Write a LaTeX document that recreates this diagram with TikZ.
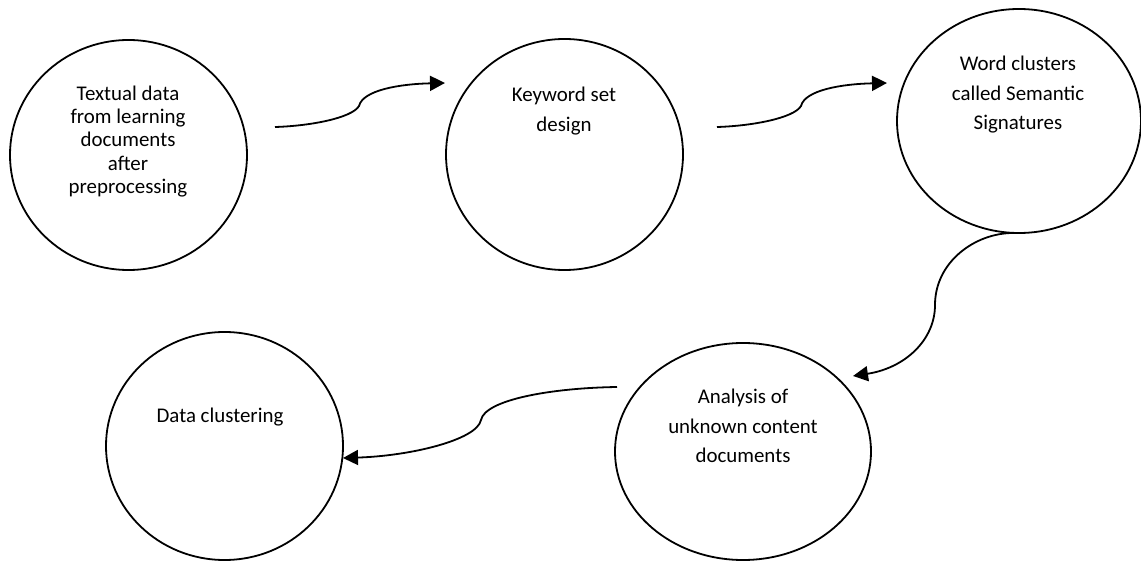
\documentclass[tikz,border=0pt]{standalone}
\usepackage{fontspec}
\setmainfont{Carlito}
\usetikzlibrary{shapes.geometric,arrows.meta}
\begin{document}
\begin{tikzpicture}[x=1pt,y=-1pt,
  bubble/.style={draw=black,line width=1.8pt,ellipse,inner sep=0pt},
  caption/.style={align=center,inner sep=0pt,font=\fontsize{20.9}{29.5}\selectfont},
  tightcaption/.style={caption,font=\fontsize{20.9}{23.3}\selectfont},
  flow/.style={line width=1.8pt,-{Triangle[length=15pt,width=15pt]}}]
\useasboundingbox (0,0) rectangle (1141,561);

% process bubbles
\node[bubble,minimum width=237pt,minimum height=230pt] (c1) at (128.5,155) {};
\node[bubble,minimum width=237pt,minimum height=231pt] (c2) at (564.5,154.5) {};
\node[bubble,minimum width=244pt,minimum height=224pt] (c3) at (1019,121) {};
\node[bubble,minimum width=256pt,minimum height=217pt] (c4) at (743,451.5) {};
\node[bubble,minimum width=237pt,minimum height=228pt] (c5) at (224.5,446) {};

% bubble texts
\node[tightcaption] (t1) at (128,141.5) {Textual data\\from learning\\documents\\after\\preprocessing};
\node[caption] (t2) at (564,111) {Keyword set\\design};
\node[caption] (t3) at (1018,95) {Word clusters\\called Semantic\\Signatures};
\node[caption] (t4) at (743,426) {Analysis of\\unknown content\\documents};
\node[caption] (t5) at (220,417) {Data clustering};

% connector end points
\coordinate (a1s) at (275,127);
\coordinate (a1m) at (359,106);
\coordinate (a1e) at (445,83);
\coordinate (a2s) at (717,127);
\coordinate (a2m) at (801,106);
\coordinate (a2e) at (887,83);
\coordinate (a3s) at (1013,233);
\coordinate (a3m) at (935,305);
\coordinate (a3e) at (853,376);
\coordinate (a4s) at (617,387);
\coordinate (a4m) at (481,420);
\coordinate (a4e) at (343,458);

% curved connectors
\draw[flow] (a1s) .. controls (310,126) and (352,118) .. (a1m)
                  .. controls (363,90) and (400,84) .. (a1e);
\draw[flow] (a2s) .. controls (752,126) and (794,118) .. (a2m)
                  .. controls (805,90) and (842,84) .. (a2e);
\draw[flow] (a3s) .. controls (975,233) and (935,262) .. (a3m)
                  .. controls (935,340) and (905,368) .. (a3e);
\draw[flow] (a4s) .. controls (550,388) and (485,400) .. (a4m)
                  .. controls (477,440) and (410,456) .. (a4e);
\end{tikzpicture}
\end{document}
